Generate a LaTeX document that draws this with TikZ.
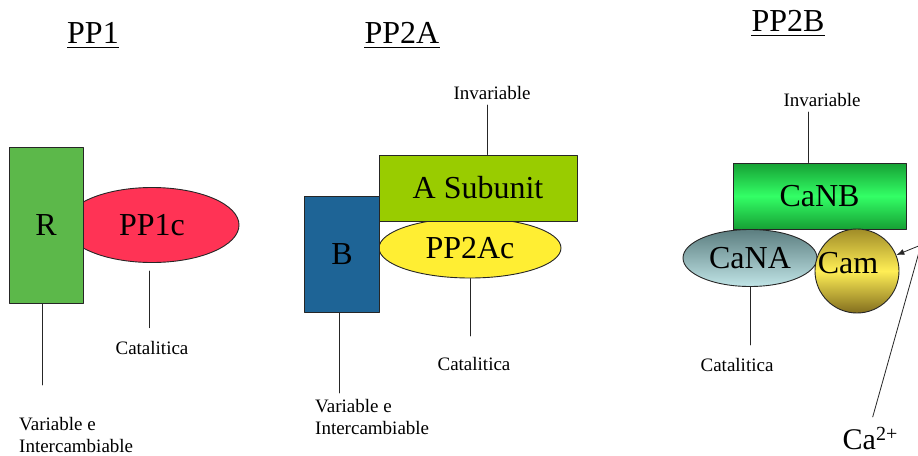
\documentclass[tikz,border=0pt]{standalone}
\usepackage{fontspec}
\setmainfont{Liberation Serif}
\usepackage{xcolor}
\usepackage{tikz}
\usetikzlibrary{arrows.meta,calc,positioning,shapes.geometric}

\definecolor{rgreen}{RGB}{92,184,74}
\definecolor{pp1red}{RGB}{255,51,85}
\definecolor{agreen}{RGB}{153,204,0}
\definecolor{bblue}{RGB}{30,100,150}
\definecolor{pp2yellow}{RGB}{255,238,51}
\definecolor{nbdark}{RGB}{22,160,52}
\definecolor{nblight}{RGB}{51,255,102}
\definecolor{nadark}{RGB}{92,126,128}
\definecolor{nalight}{RGB}{192,228,230}
\definecolor{camdark}{RGB}{160,140,40}
\definecolor{camlight}{RGB}{255,238,85}
\definecolor{camlow}{RGB}{130,110,30}

\begin{document}
\begin{tikzpicture}[x=1pt, y=-1pt, >=Latex, line cap=round, line join=round,
  unit/.style={draw=black!85, line width=0.9pt, inner sep=0pt, font=\fontsize{32}{36}\selectfont},
  oval/.style={unit, ellipse},
  title/.style={font=\fontsize{32}{36}\selectfont, anchor=base, inner sep=0pt},
  uline/.style={line width=1.8pt, line cap=butt},
  note/.style={font=\fontsize{19}{22}\selectfont, align=left, inner sep=0pt},
  lead/.style={black!85, line width=0.8pt}]
  \clip (0,0) rectangle (918,455);
  \fill[white] (0,0) rectangle (918,455);

  % PP1.
  \node[title] (t1) at (93,43) {PP1};
  \draw[uline] ([yshift=-4.5pt]t1.base west) -- ([yshift=-4.5pt]t1.base east);
  \node[oval, fill=pp1red, minimum width=174pt, minimum height=75pt] (pp1c) at (152,225) {PP1c};
  \node[unit, fill=rgreen, minimum width=74pt, minimum height=156pt] (rsub) at (46,225) {R};
  \node[note, anchor=base] (cat1) at (152,354) {Catalitica};
  \node[note, anchor=north west] (var1) at (19,417) {Variable e\\Intercambiable};
  \coordinate (v1) at (42,385);
  \coordinate (c1) at (149,271);
  \draw[lead] (rsub.south -| v1) -- (v1);
  \draw[lead] (c1) -- (c1 |- cat1.north) [shorten >=13pt];

  % PP2A.
  \node[title] (t2) at (402,43) {PP2A};
  \draw[uline] ([yshift=-4.5pt]t2.base west) -- ([yshift=-4.5pt]t2.base east);
  \node[oval, fill=pp2yellow, minimum width=182pt, minimum height=60pt] (pp2ac) at (470,248) {PP2Ac};
  \node[unit, fill=agreen, minimum width=198pt, minimum height=66pt] (asub) at (478,188) {A Subunit};
  \node[unit, fill=bblue, minimum width=75pt, minimum height=116pt] (bsub) at (342,254) {B};
  \node[note, anchor=base] (inv2) at (492,99) {Invariable};
  \node[note, anchor=base] (cat2) at (474,370) {Catalitica};
  \node[note, anchor=north west] (var2) at (315,399) {Variable e\\Intercambiable};
  \coordinate (n2) at (487,105);
  \coordinate (v2) at (339,393);
  \coordinate (c2) at (470,336);
  \draw[lead] (n2) -- (n2 |- asub.north);
  \draw[lead] (bsub.south -| v2) -- (v2);
  \draw[lead] (pp2ac.south -| c2) -- (c2);

  % PP2B.
  \node[title] (t3) at (788,31) {PP2B};
  \draw[uline] ([yshift=-4.5pt]t3.base west) -- ([yshift=-4.5pt]t3.base east);
  \node[unit, top color=nbdark, bottom color=nbdark, middle color=nblight,
    minimum width=173pt, minimum height=66pt] (canb) at (819.5,196) {CaNB};
  \node[oval, top color=nadark, bottom color=nalight,
    minimum width=134pt, minimum height=57pt] (cana) at (750,258) {CaNA};
  \node[unit, circle, top color=camdark, bottom color=camlow, middle color=camlight,
    minimum size=84pt] (cam) at (857,271) {};
  \node[font=\fontsize{32}{36}\selectfont, inner sep=0pt] (camtxt) at (848,263) {Cam};
  \node[note, anchor=base] (inv3) at (822,106) {Invariable};
  \node[note, anchor=base] (cat3) at (737,371) {Catalitica};
  \node[font=\fontsize{30}{34}\selectfont, anchor=base, inner sep=0pt] (ca) at (870,449)
    {Ca\raisebox{9pt}{\fontsize{20}{20}\selectfont 2+}};
  \coordinate (n3) at (808,112);
  \coordinate (c3) at (750,345);
  \coordinate (bend) at (921,245);
  \draw[lead] (n3) -- (n3 |- canb.north);
  \draw[lead] (cana.south) -- (c3);
  \draw[lead, -{Latex[length=8pt,width=6pt]}, shorten <=10pt] (ca.north) -- (bend) -- (cam);
\end{tikzpicture}
\end{document}
